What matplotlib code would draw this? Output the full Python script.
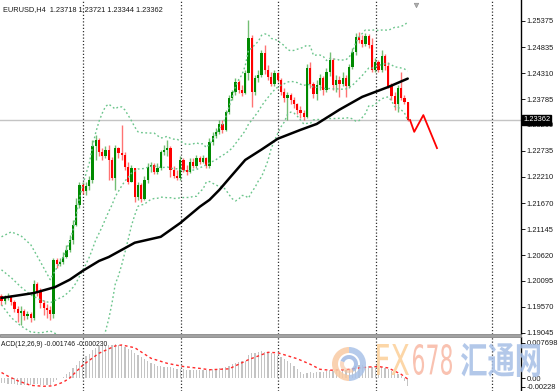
import numpy as np
import pandas as pd
import matplotlib
matplotlib.use('Agg')
import matplotlib.pyplot as plt
from matplotlib.patches import Rectangle, Wedge, PathPatch, Polygon
from matplotlib.textpath import TextPath
from matplotlib.font_manager import FontProperties
from matplotlib.transforms import Affine2D

plt.rcParams['font.family'] = ['Liberation Sans', 'DejaVu Sans']

W, H = 558, 391

# EURUSD H4 candles
first_open = 1.1979
closes = [1.1969, 1.1975, 1.1979, 1.1967, 1.1953, 1.1945, 1.1949, 1.1939, 1.1943, 1.1935,
          1.2003, 1.1987, 1.1965, 1.1955, 1.1951, 1.1943, 1.2052, 1.2044, 1.2048, 1.2058,
          1.2073, 1.2093, 1.2123, 1.2164, 1.2204, 1.2192, 1.2202, 1.2215, 1.2284, 1.2296,
          1.2271, 1.2263, 1.2276, 1.2255, 1.2219, 1.2280, 1.2269, 1.2265, 1.2241, 1.2211,
          1.2239, 1.2180, 1.2204, 1.2176, 1.2215, 1.2241, 1.2245, 1.2231, 1.2239, 1.2271,
          1.2276, 1.2280, 1.2235, 1.2223, 1.2219, 1.2255, 1.2235, 1.2231, 1.2251, 1.2243,
          1.2259, 1.2251, 1.2259, 1.2243, 1.2292, 1.2304, 1.2312, 1.2328, 1.2316, 1.2353,
          1.2381, 1.2393, 1.2414, 1.2397, 1.2391, 1.2432, 1.2503, 1.2393, 1.2422, 1.2428,
          1.2472, 1.2438, 1.2424, 1.2409, 1.2432, 1.2418, 1.2393, 1.2381, 1.2387, 1.2377,
          1.2369, 1.2357, 1.2351, 1.2343, 1.2442, 1.2409, 1.2389, 1.2407, 1.2422, 1.2397,
          1.2434, 1.2458, 1.2407, 1.2418, 1.2409, 1.2422, 1.2405, 1.2444, 1.2474, 1.2505,
          1.2499, 1.2491, 1.2507, 1.2489, 1.2438, 1.2454, 1.2438, 1.2466, 1.2446, 1.2405,
          1.2385, 1.2369, 1.2401, 1.2381, 1.23718, 1.23362]
highs = [1.1983, 1.1981, 1.1985, 1.1981, 1.1971, 1.1959, 1.1959, 1.1953, 1.1949, 1.1947,
         1.2012, 1.2008, 1.1995, 1.1971, 1.1963, 1.1959, 1.2056, 1.2056, 1.2056, 1.2068,
         1.2083, 1.2103, 1.2133, 1.2178, 1.2211, 1.2211, 1.2211, 1.2223, 1.2296, 1.2306,
         1.2300, 1.2280, 1.2284, 1.2286, 1.2261, 1.2286, 1.2282, 1.2326, 1.2271, 1.2251,
         1.2245, 1.2239, 1.2211, 1.2209, 1.2223, 1.2249, 1.2251, 1.2249, 1.2249, 1.2276,
         1.2286, 1.2296, 1.2284, 1.2243, 1.2235, 1.2263, 1.2259, 1.2245, 1.2259, 1.2259,
         1.2265, 1.2263, 1.2265, 1.2261, 1.2300, 1.2312, 1.2320, 1.2336, 1.2336, 1.2357,
         1.2387, 1.2397, 1.2422, 1.2418, 1.2407, 1.2438, 1.2539, 1.2509, 1.2428, 1.2438,
         1.2479, 1.2489, 1.2448, 1.2434, 1.2438, 1.2434, 1.2422, 1.2401, 1.2393, 1.2391,
         1.2383, 1.2371, 1.2365, 1.2357, 1.2450, 1.2454, 1.2414, 1.2418, 1.2430, 1.2426,
         1.2442, 1.2474, 1.2462, 1.2428, 1.2426, 1.2434, 1.2428, 1.2450, 1.2483, 1.2513,
         1.2515, 1.2509, 1.2513, 1.2511, 1.2503, 1.2462, 1.2458, 1.2479, 1.2470, 1.2454,
         1.2411, 1.2393, 1.2407, 1.2434, 1.2387, 1.23721]
lows = [1.1961, 1.1963, 1.1971, 1.1961, 1.1947, 1.1926, 1.1920, 1.1930, 1.1932, 1.1926,
        1.1930, 1.1979, 1.1955, 1.1941, 1.1935, 1.1930, 1.1935, 1.2036, 1.2040, 1.2044,
        1.2056, 1.2068, 1.2085, 1.2121, 1.2158, 1.2186, 1.2184, 1.2194, 1.2209, 1.2255,
        1.2263, 1.2255, 1.2259, 1.2215, 1.2215, 1.2194, 1.2259, 1.2255, 1.2235, 1.2207,
        1.2211, 1.2170, 1.2174, 1.2170, 1.2174, 1.2209, 1.2231, 1.2227, 1.2227, 1.2235,
        1.2265, 1.2263, 1.2221, 1.2219, 1.2215, 1.2215, 1.2231, 1.2225, 1.2229, 1.2239,
        1.2239, 1.2247, 1.2249, 1.2239, 1.2239, 1.2286, 1.2300, 1.2308, 1.2310, 1.2314,
        1.2349, 1.2377, 1.2387, 1.2391, 1.2385, 1.2389, 1.2418, 1.2363, 1.2387, 1.2414,
        1.2424, 1.2430, 1.2418, 1.2405, 1.2405, 1.2414, 1.2387, 1.2373, 1.2336, 1.2369,
        1.2361, 1.2349, 1.2341, 1.2336, 1.2341, 1.2401, 1.2381, 1.2377, 1.2397, 1.2387,
        1.2393, 1.2426, 1.2397, 1.2393, 1.2383, 1.2405, 1.2383, 1.2401, 1.2440, 1.2468,
        1.2493, 1.2485, 1.2487, 1.2483, 1.2434, 1.2434, 1.2434, 1.2434, 1.2438, 1.2401,
        1.2377, 1.2357, 1.2353, 1.2377, 1.2369, 1.23344]
opens = [first_open] + closes[:-1]

# long moving average (black), read at a few bars
ma_x = [0, 10, 16.5, 21, 25, 30, 33, 41, 49, 55, 61, 64, 67, 70, 75, 80, 85, 92, 97, 104, 111, 119, 125]
ma_y = [1.1975, 1.1985, 1.1997, 1.2012, 1.2030, 1.2050, 1.2058, 1.2087, 1.2099, 1.2127, 1.2160,
        1.2174, 1.2194, 1.2217, 1.2255, 1.2276, 1.2298, 1.2316, 1.2328, 1.2357, 1.2383, 1.2403, 1.2420]

# bollinger bands before the first full 20-bar window
bb_head_x = [0, 3, 6, 9, 12, 15, 18]
bb_head_up = [1.2099, 1.2109, 1.2101, 1.2083, 1.2048, 1.2012, 1.2048]
bb_head_mid = [1.2032, 1.2016, 1.1997, 1.1981, 1.1971, 1.1965, 1.1975]
bb_head_lo = [1.1961, 1.1935, 1.1918, 1.1906, 1.1904, 1.1908, 1.1898]

# forecast zigzag
fc_x = [125.7, 127.0, 129.8, 134.0]
fc_y = [1.2336, 1.2312, 1.2346, 1.2279]

# MACD (x 1e-3)
macd_hist = np.array([
    -1.0, -1.1, -1.2, -1.3, -1.4, -1.5, -1.5, -1.6, -1.6, -1.6,
    -1.4, -1.4, -1.5, -1.5, -1.5, -1.5, -0.9, -0.5, -0.1, 0.3,
    0.8, 1.4, 2.1, 2.9, 3.7, 4.3, 4.8, 5.2, 6.0, 6.6,
    6.9, 7.1, 7.3, 7.3, 7.2, 7.4, 7.3, 7.1, 6.8, 6.4,
    6.0, 5.4, 5.0, 4.5, 4.1, 3.7, 3.3, 3.0, 2.7, 2.6,
    2.5, 2.4, 2.3, 2.1, 2.0, 2.0, 1.9, 1.8, 1.8, 1.7,
    1.7, 1.7, 1.7, 1.7, 1.8, 1.9, 2.0, 2.1, 2.2, 2.4,
    2.7, 3.0, 3.3, 3.5, 3.6, 3.8, 5.0, 5.4, 5.5, 5.6,
    5.8, 5.7, 5.6, 5.4, 5.2, 4.9, 4.6, 4.2, 3.7, 3.2,
    2.6, 2.0, 1.4, 0.9, 1.2, 1.3, 1.2, 1.3, 1.4, 1.4,
    1.5, 1.7, 1.6, 1.6, 1.6, 1.7, 1.7, 1.9, 2.2, 2.6,
    2.8, 2.8, 2.7, 2.6, 2.3, 2.2, 2.2, 2.3, 2.2, 1.9,
    1.5, 1.0, 0.8, 0.4, -0.6, -1.746]) * 1e-3
signal_x = [0, 2, 5, 9, 13, 16, 19, 21, 25, 30, 35, 37, 41, 46, 51, 56, 61, 64, 70, 76,
            82, 85, 91, 95, 98, 101, 106, 109, 113, 116, 119, 121, 123, 125]
signal_v = np.array([1.2, 0.4, -0.6, -1.6, -1.8, -1.7, -0.9, 0.0, 2.8, 5.4, 7.0, 7.2, 6.6, 4.3,
                     3.2, 2.5, 2.1, 1.8, 2.0, 4.0, 5.6, 5.5, 4.2, 3.0, 1.9, 1.7, 1.8, 2.1,
                     2.4, 2.5, 2.2, 1.5, 0.8, -0.23]) * 1e-3

price_ticks = [1.25375, 1.24835, 1.24310, 1.23785, 1.23260, 1.22735, 1.22210,
               1.21670, 1.21145, 1.20620, 1.20095, 1.19570, 1.19045]
# the bottom label sits a little above its value, as the terminal draws it
macd_ticks = [0.007698, 0.0, -0.0019]
macd_labels = ['0.007698', '0.00', '-0.00228']
grid_x = [25.1, 55.2, 85.1, 115.2, 150.8]
shift_bar = 127.5  # chart shift marker

title = 'EURUSD,H4  1.23718 1.23721 1.23344 1.23362'
macd_title = 'ACD(12,26,9) -0.001746 -0.000230'

GREEN = '#008a00'
RED = '#ff0000'
BAND = '#6cc58c'

fig = plt.figure(figsize=(W / 100, H / 100), dpi=100)
ax = fig.add_axes([0, 1 - 334 / H, 521 / W, 334 / H])
axm = fig.add_axes([0, 0, 521 / W, (H - 337) / H])

n = len(closes)
x = np.arange(n)
o = np.array(opens)
c = np.array(closes)
hi = np.array(highs)
lo = np.array(lows)
up = c >= o
cols = np.where(up, GREEN, RED)

for a in (ax, axm):
    for gx in grid_x:
        a.axvline(gx, color='#303030', ls=(0, (1, 1.6)), lw=0.9, zorder=1)
    a.set_xlim(-0.46, 159.85)
    for s in ('top', 'left', 'bottom'):
        a.spines[s].set_visible(False)
    a.spines['right'].set_linewidth(1.0)
    a.yaxis.tick_right()
    a.set_xticks([])
    a.tick_params(axis='y', length=3, width=0.7, pad=1.0, labelsize=5.4, colors='#1a1a1a')

ax.set_ylim(1.19018, 1.25795)
ax.axhline(closes[-1], color='#c4c4c4', lw=1.0, zorder=1)

# candles
ax.vlines(x, lo, hi, colors=cols, lw=1.0, alpha=0.55, zorder=2)
ax.bar(x, np.maximum(np.abs(c - o), 0.00005), bottom=np.minimum(o, c), width=0.7,
       color=cols, linewidth=0, zorder=3)

# bollinger bands 20,2
s = pd.Series(closes)
mid = s.rolling(20).mean()
sd = s.rolling(20).std(ddof=0)
idx = list(range(19, n))
bx = bb_head_x + idx
b_up = bb_head_up + list((mid + 2 * sd)[19:])
b_mid = bb_head_mid + list(mid[19:])
b_lo = bb_head_lo + list((mid - 2 * sd)[19:])
for band in (b_up, b_mid, b_lo):
    ax.plot(bx, band, color=BAND, ls=(0, (1.3, 1.8)), lw=1.0, zorder=4)

ax.plot(ma_x, ma_y, color='black', lw=1.8, zorder=5, solid_capstyle='round')
ax.plot(fc_x, fc_y, color='red', lw=1.3, zorder=5)
ax.plot([shift_bar], [0.985], transform=ax.get_xaxis_transform(), marker='v', ms=3.2,
        mfc='#b0b0b0', mec='#909090', mew=0.5, ls='none', clip_on=False, zorder=6)

ax.set_yticks(price_ticks)
ax.set_yticklabels(['%.5f' % v for v in price_ticks])
ax.text(0.006, 1 - 10 / 334, title, transform=ax.transAxes, va='center', ha='left',
        fontsize=5.3, color='#1a1a1a')
ax.text(1.004, closes[-1], '%.5f' % closes[-1], transform=ax.get_yaxis_transform(),
        va='center', ha='left', fontsize=5.4, color='white', clip_on=False, zorder=10,
        bbox=dict(facecolor='black', edgecolor='black', pad=0.9))

# MACD panel
axm.set_ylim(-0.00283, 0.00894)
axm.bar(x, macd_hist, width=0.34, color='#c4c4c4', linewidth=0, zorder=2)
axm.plot(signal_x, signal_v, color='#ff2a2a', ls=(0, (2, 2)), lw=1.0, zorder=3)
axm.set_yticks(macd_ticks)
axm.set_yticklabels(macd_labels)
axm.text(0.002, (H - 344) / (H - 337), macd_title, transform=axm.transAxes, va='center',
         ha='left', fontsize=4.9, color='#1a1a1a', zorder=6)

# overlay in pixel coordinates: separator and watermark
wax = fig.add_axes([0, 0, 1, 1], zorder=5)
wax.set_xlim(0, W)
wax.set_ylim(H, 0)
wax.axis('off')
wax.patch.set_alpha(0)
wax.add_patch(Rectangle((0, 334), 521, 3, facecolor='#a2a2a2', edgecolor='#7a7a7a', lw=0.5))


def fit_text(s, box, color, family, weight='normal', alpha=0.85):
    tp = TextPath((0, 0), s, size=1, prop=FontProperties(family=family, weight=weight))
    ext = tp.get_extents()
    x0, y0, x1, y1 = box
    tr = Affine2D().translate(-ext.x0, -ext.y0).scale((x1 - x0) / ext.width,
                                                      -(y1 - y0) / ext.height).translate(x0, y1)
    wax.add_patch(PathPatch(tr.transform_path(tp), facecolor=color, edgecolor='none', alpha=alpha))


fit_text('FX', (377, 344, 409, 375), '#fccf98', 'DejaVu Sans')
fit_text('678', (413, 344, 452, 375), '#f8b8a4', 'DejaVu Sans')
fit_text('汇通网', (461, 343, 540, 377), '#a6bfe6', 'Noto Sans CJK SC', weight='bold')

# logo swirl
cx, cy = 349, 364
wax.add_patch(Wedge((cx, cy), 17, 90, 270, width=6, facecolor='#f9caa4', edgecolor='none', alpha=0.85))
wax.add_patch(Wedge((cx, cy), 17, 270, 90, width=6, facecolor='#a9c2e8', edgecolor='none', alpha=0.85))
wax.add_patch(Wedge((cx, cy), 9, 200, 60, width=4, facecolor='#9fb9e4', edgecolor='none', alpha=0.85))
wax.add_patch(Wedge((cx, cy), 9, 60, 200, width=4, facecolor='#f7c09a', edgecolor='none', alpha=0.6))

fig.savefig('out.png', dpi=100, facecolor='white')
